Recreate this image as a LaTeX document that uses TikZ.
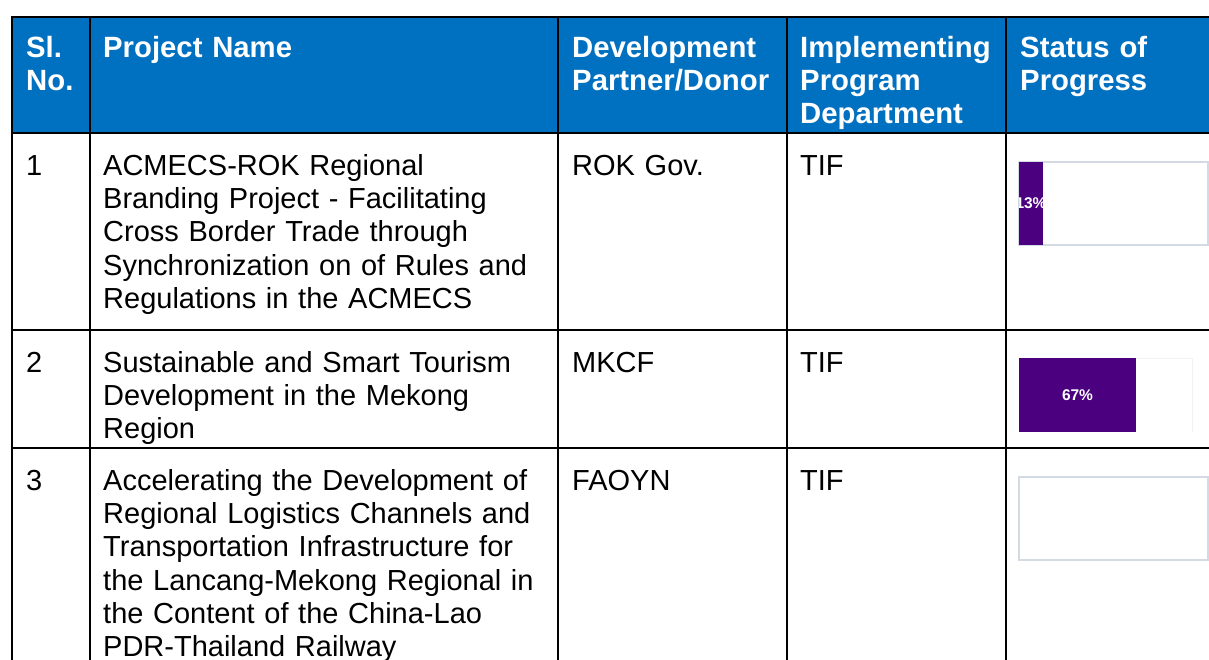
\documentclass[tikz,border=0pt]{standalone}
\usepackage{fontspec}
\setmainfont{Liberation Sans}
\definecolor{hdrblue}{HTML}{0070C0}
\definecolor{barpurple}{HTML}{4B0080}
\definecolor{trackgray}{HTML}{D3DAE3}
\begin{document}
\begin{tikzpicture}[x=1pt,y=-1pt,
  cell/.style={anchor=north west, inner sep=0pt, text width=#1, align=left,
    font=\fontsize{29.0}{33.3}\selectfont, execute at begin node={\rule{0pt}{25pt}}},
  hcell/.style={cell=#1, text=white, font=\fontsize{29.3}{33.3}\selectfont\bfseries},
  grid/.style={line width=2pt, black},
  track/.style={draw=trackgray, line width=1.5pt},
  pct/.style={inner sep=0pt, text=white, font=\fontsize{15.5}{17}\selectfont\bfseries}]
\useasboundingbox (0,0) rectangle (1209,660);
\clip (0,0) rectangle (1209,660);
% header band
\fill[hdrblue] (12,17) rectangle (1209,133);
% grid
\draw[grid] (12,17) -- (1209,17);
\draw[grid] (12,133) -- (1209,133);
\draw[grid] (12,330) -- (1209,330);
\draw[grid] (12,448) -- (1209,448);
\foreach \xx in {12,90,558,787,1006} \draw[grid] (\xx,16) -- (\xx,660);
% header texts
\node[hcell=60] (hsl) at (26,32) {Sl.\\No.};
\node[hcell=440] (hname) at (103,32) {Project Name};
\node[hcell=220] (hdev) at (572,32) {Development\\Partner/Donor};
\node[hcell=210] (himp) at (800,32) {Implementing\\Program\\Department};
\node[hcell=190] (hstat) at (1020,32) {Status of\\Progress};
% row 1
\node[cell=60] (r1sl) at (26,150) {1};
\node[cell=450] (r1name) at (103,150) {ACMECS-ROK Regional\\Branding Project - Facilitating\\Cross Border Trade through\\Synchronization on of Rules and\\Regulations in the ACMECS};
\node[cell=210] (r1dev) at (572,150) {ROK Gov.};
\node[cell=200] (r1imp) at (800,150) {TIF};
% row 2
\node[cell=60] (r2sl) at (26,347) {2};
\node[cell=450] (r2name) at (103,347) {Sustainable and Smart Tourism\\Development in the Mekong\\Region};
\node[cell=210] (r2dev) at (572,347) {MKCF};
\node[cell=200] (r2imp) at (800,347) {TIF};
% row 3
\node[cell=60] (r3sl) at (26,465) {3};
\node[cell=450] (r3name) at (103,465) {Accelerating the Development of\\Regional Logistics Channels and\\Transportation Infrastructure for\\the Lancang-Mekong Regional in\\the Content of the China-Lao\\PDR-Thailand Railway};
\node[cell=210] (r3dev) at (572,465) {FAOYN};
\node[cell=200] (r3imp) at (800,465) {TIF};
% progress bar 1
\draw[track] (1019,162) rectangle (1208,245);
\fill[barpurple] (1019,162) rectangle (1043,245);
\begin{scope}
  \clip (1019,162) rectangle (1043,245);
  \node[pct] (p1) at (1031,203.5) {13\%};
\end{scope}
% progress bar 2
\draw[color=gray!10, line width=1pt] (1136,358) -- (1192,358) -- (1192,432);
\fill[barpurple] (1019,358) rectangle (1136,432);
\node[pct] (p2) at (1077.5,395) {67\%};
% progress bar 3
\draw[track] (1019,477) rectangle (1208,560);
\end{tikzpicture}
\end{document}
